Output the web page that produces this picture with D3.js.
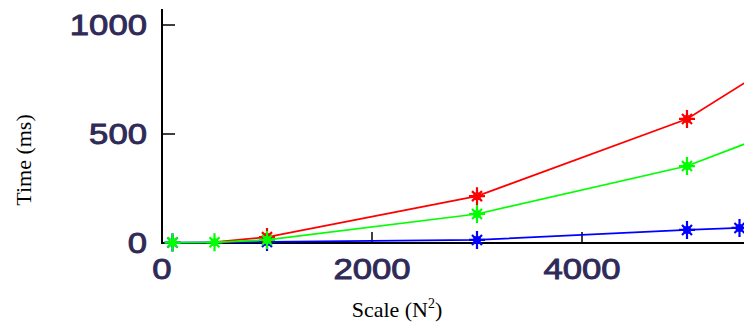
<!DOCTYPE html>
<html>
<head>
<meta charset="utf-8">
<script src="https://cdn.jsdelivr.net/npm/d3@7"></script>
<style>
  body { margin: 0; background: #fff; }
  svg { display: block; }
</style>
</head>
<body>
<svg id="chart" width="744" height="325"></svg>
<script>
// values
var blueX  = [100, 500, 1000, 3000, 5000, 5500, 6000];
var blueY  = [2, 3, 5, 14, 60, 69, 78];
var redX   = [500, 1000, 3000, 5000, 6000];
var redY   = [4, 27, 215, 569, 870];
var greenX = [100, 500, 1000, 3000, 5000, 6000];
var greenY = [2, 3, 14, 133, 353, 537];
var blueMarks = [100, 1000, 3000, 5000, 5500];
var xTicks = [0, 2000, 4000];
var yTicks = [0, 500, 1000];

var svg = d3.select("#chart");

var x = d3.scaleLinear().domain([0, 4000]).range([162, 582]);
var y = d3.scaleLinear().domain([0, 1000]).range([243, 25]);

// axes
svg.append("line").attr("x1", 162).attr("x2", 162).attr("y1", 9).attr("y2", 244)
  .attr("stroke", "#000").attr("stroke-width", 2);
svg.append("line").attr("x1", 161).attr("x2", 744).attr("y1", y(0)).attr("y2", y(0))
  .attr("stroke", "#000").attr("stroke-width", 2);

svg.selectAll(".yt").data(yTicks).enter().append("line")
  .attr("x1", 162).attr("x2", 175)
  .attr("y1", function(d) { return y(d); }).attr("y2", function(d) { return y(d); })
  .attr("stroke", "#000").attr("stroke-width", 1.5);
svg.selectAll(".xt").data(xTicks).enter().append("line")
  .attr("x1", function(d) { return x(d); }).attr("x2", function(d) { return x(d); })
  .attr("y1", y(0)).attr("y2", y(0) - 11)
  .attr("stroke", "#000").attr("stroke-width", 1.5);

var lblColor = "#2f2a58";
function tickText(sel) {
  sel.attr("font-family", "Liberation Sans, Arial, sans-serif")
    .attr("font-size", 29)
    .attr("fill", lblColor)
    .attr("stroke", lblColor).attr("stroke-width", 0.9)
    .attr("textLength", function(d) { return String(d).length * 19.3; })
    .attr("lengthAdjust", "spacingAndGlyphs")
    .text(function(d) { return d; });
}
svg.selectAll(".yl").data(yTicks).enter().append("text")
  .attr("x", 147).attr("y", function(d) { return y(d) + 10; })
  .attr("text-anchor", "end")
  .call(tickText);
svg.selectAll(".xl").data(xTicks).enter().append("text")
  .attr("x", function(d) { return x(d) - String(d).length * 9.65; })
  .attr("y", 279)
  .call(tickText);

// axis titles
svg.append("text")
  .attr("transform", "translate(31,160) rotate(-90)")
  .attr("text-anchor", "middle")
  .attr("font-family", "Liberation Serif, Times New Roman, serif")
  .attr("font-size", 22).attr("fill", "#000")
  .text("Time (ms)");
var xt = svg.append("text")
  .attr("x", 397).attr("y", 317)
  .attr("text-anchor", "middle")
  .attr("font-family", "Liberation Serif, Times New Roman, serif")
  .attr("font-size", 22).attr("fill", "#000");
xt.append("tspan").text("Scale (N");
xt.append("tspan").attr("font-size", 14).attr("dy", -9).text("2");
xt.append("tspan").attr("dy", 9).text(")");

var line = d3.line()
  .x(function(d) { return x(d[0]); })
  .y(function(d) { return y(d[1]); });

function star(g, px, py, color) {
  var p = d3.path();
  p.moveTo(px, py - 9); p.lineTo(px, py + 9);
  p.moveTo(px - 8, py); p.lineTo(px + 8, py);
  p.moveTo(px - 5, py - 5); p.lineTo(px + 5, py + 5);
  p.moveTo(px - 5, py + 5); p.lineTo(px + 5, py - 5);
  g.append("path").attr("d", p.toString())
    .attr("stroke", color).attr("stroke-width", 2.2).attr("fill", "none");
  g.append("circle").attr("cx", px).attr("cy", py).attr("r", 4).attr("fill", color);
}

function series(xs, ys, marks, color) {
  var pts = xs.map(function(v, i) { return [v, ys[i]]; });
  var g = svg.append("g");
  g.append("path").datum(pts).attr("d", line)
    .attr("fill", "none").attr("stroke", color).attr("stroke-width", 1.7);
  pts.forEach(function(d) {
    if (marks.indexOf(d[0]) >= 0) star(g, x(d[0]), y(d[1]), color);
  });
}

series(blueX, blueY, blueMarks, "#0000ff");
series(redX, redY, [1000, 3000, 5000], "#ff0000");
series(greenX, greenY, [100, 500, 1000, 3000, 5000], "#00ff00");
</script>
</body>
</html>
